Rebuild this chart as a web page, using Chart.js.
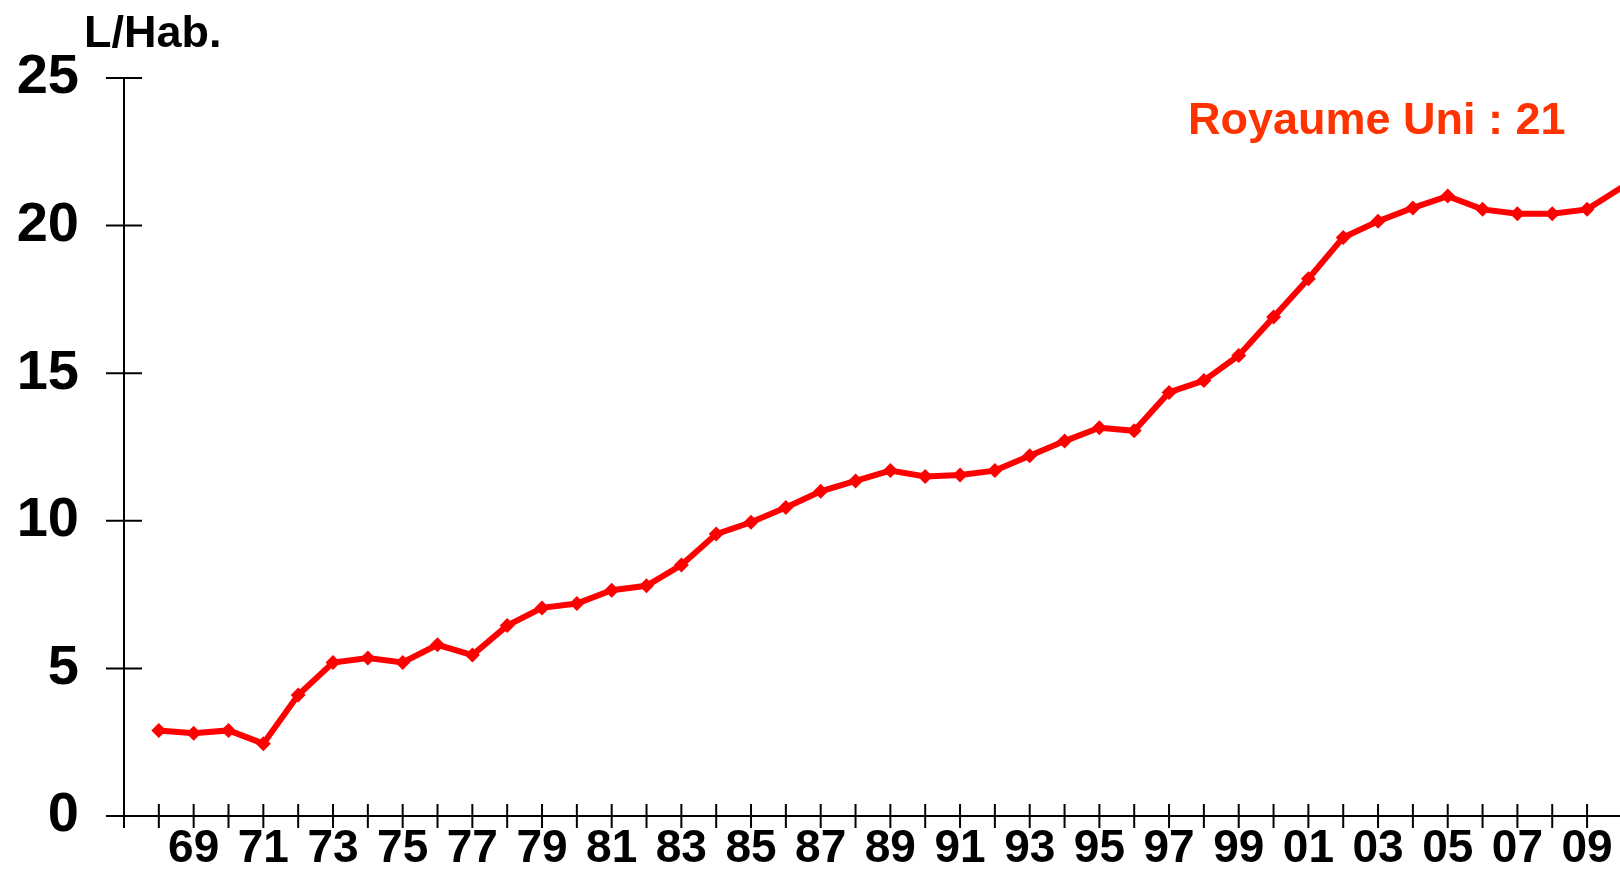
<!DOCTYPE html>
<html>
<head>
<meta charset="utf-8">
<script src="https://cdn.jsdelivr.net/npm/chart.js@4/dist/chart.umd.min.js"></script>
<style>
  body { margin: 0; background: #fff; }
  canvas { display: block; }
</style>
</head>
<body>
<canvas id="lineChart" width="1620" height="891"></canvas>
<script>
// years on the x axis and litres per inhabitant
const years = [1968, 1969, 1970, 1971, 1972, 1973, 1974, 1975, 1976, 1977,
  1978, 1979, 1980, 1981, 1982, 1983, 1984, 1985, 1986, 1987,
  1988, 1989, 1990, 1991, 1992, 1993, 1994, 1995, 1996, 1997,
  1998, 1999, 2000, 2001, 2002, 2003, 2004, 2005, 2006, 2007,
  2008, 2009, 2010];
const litres = [2.9, 2.8, 2.9, 2.45, 4.1, 5.2, 5.35, 5.2, 5.8, 5.45,
  6.45, 7.05, 7.2, 7.65, 7.8, 8.5, 9.55, 9.95, 10.45, 11.0,
  11.35, 11.7, 11.5, 11.55, 11.7, 12.2, 12.7, 13.15, 13.05, 14.35,
  14.75, 15.6, 16.9, 18.2, 19.6, 20.15, 20.6, 21.0, 20.55, 20.4,
  20.4, 20.55, 21.3];
const yTicks = [0, 5, 10, 15, 20, 25];
const unitLabel = 'L/Hab.';
const seriesLabel = 'Royaume Uni : 21';

const font = 'Liberation Sans, Arial, sans-serif';

// tick marks crossing the axes + the two texts
const extras = {
  id: 'extras',
  afterDraw(chart) {
    const c = chart.ctx;
    const xs = chart.scales.x, ys = chart.scales.y;
    const area = chart.chartArea;
    c.save();
    c.strokeStyle = '#000';
    c.lineWidth = 2;
    c.beginPath();
    ys.ticks.forEach(t => {
      const y = ys.getPixelForValue(t.value);
      c.moveTo(area.left - 18, y);
      c.lineTo(area.left + 18, y);
    });
    xs.ticks.forEach(t => {
      const x = xs.getPixelForValue(t.value);
      c.moveTo(x, area.bottom - 12);
      c.lineTo(x, area.bottom + 12);
    });
    // axis line runs to the right edge
    c.moveTo(area.right, area.bottom);
    c.lineTo(chart.width, area.bottom);
    c.stroke();

    c.textBaseline = 'middle';
    c.textAlign = 'left';
    c.fillStyle = '#000';
    c.font = 'bold 45px ' + font;
    c.fillText(unitLabel, 84, 35);
    c.fillStyle = '#ff3300';
    c.font = 'bold 45px ' + font;
    c.fillText(seriesLabel, 1188, 122);
    c.restore();
  }
};

const ctx = document.getElementById('lineChart').getContext('2d');
const chart = new Chart(ctx, {
  type: 'line',
  data: {
    datasets: [{
      label: seriesLabel,
      data: years.map((y, i) => ({ x: y, y: litres[i] })),
      borderColor: '#ff0000',
      backgroundColor: '#ff0000',
      borderWidth: 6,
      pointStyle: 'rectRot',
      pointRadius: 7.5,
      pointBorderWidth: 0,
      fill: false,
      tension: 0,
      clip: false
    }]
  },
  options: {
    responsive: false,
    animation: false,
    layout: { padding: { top: 78, right: 0, left: 0, bottom: 0 } },
    plugins: {
      legend: { display: false },
      tooltip: { enabled: false }
    },
    scales: {
      x: {
        type: 'linear',
        min: 1967,
        max: 2009.73,
        afterFit: s => { s.height = 75; s.paddingLeft = 0; s.paddingRight = 0; },
        border: { display: true, color: '#000', width: 2 },
        grid: { display: false, drawTicks: false },
        ticks: {
          stepSize: 1,
          includeBounds: false,
          autoSkip: false,
          maxRotation: 0,
          padding: 6,
          color: '#000',
          font: { family: font, size: 46, weight: 'bold' },
          callback: v => (v % 2 === 1 && v >= 1969) ? String(v).slice(2) : ''
        }
      },
      y: {
        min: 0,
        max: 25,
        afterFit: s => { s.width = 124; s.paddingTop = 0; s.paddingBottom = 0; },
        afterBuildTicks: s => { s.ticks = yTicks.map(v => ({ value: v })); },
        border: { display: true, color: '#000', width: 2 },
        grid: { display: false, drawTicks: false },
        ticks: {
          padding: 45,
          color: '#000',
          font: { family: font, size: 56, weight: 'bold' }
        }
      }
    }
  },
  plugins: [extras]
});
</script>
</body>
</html>
